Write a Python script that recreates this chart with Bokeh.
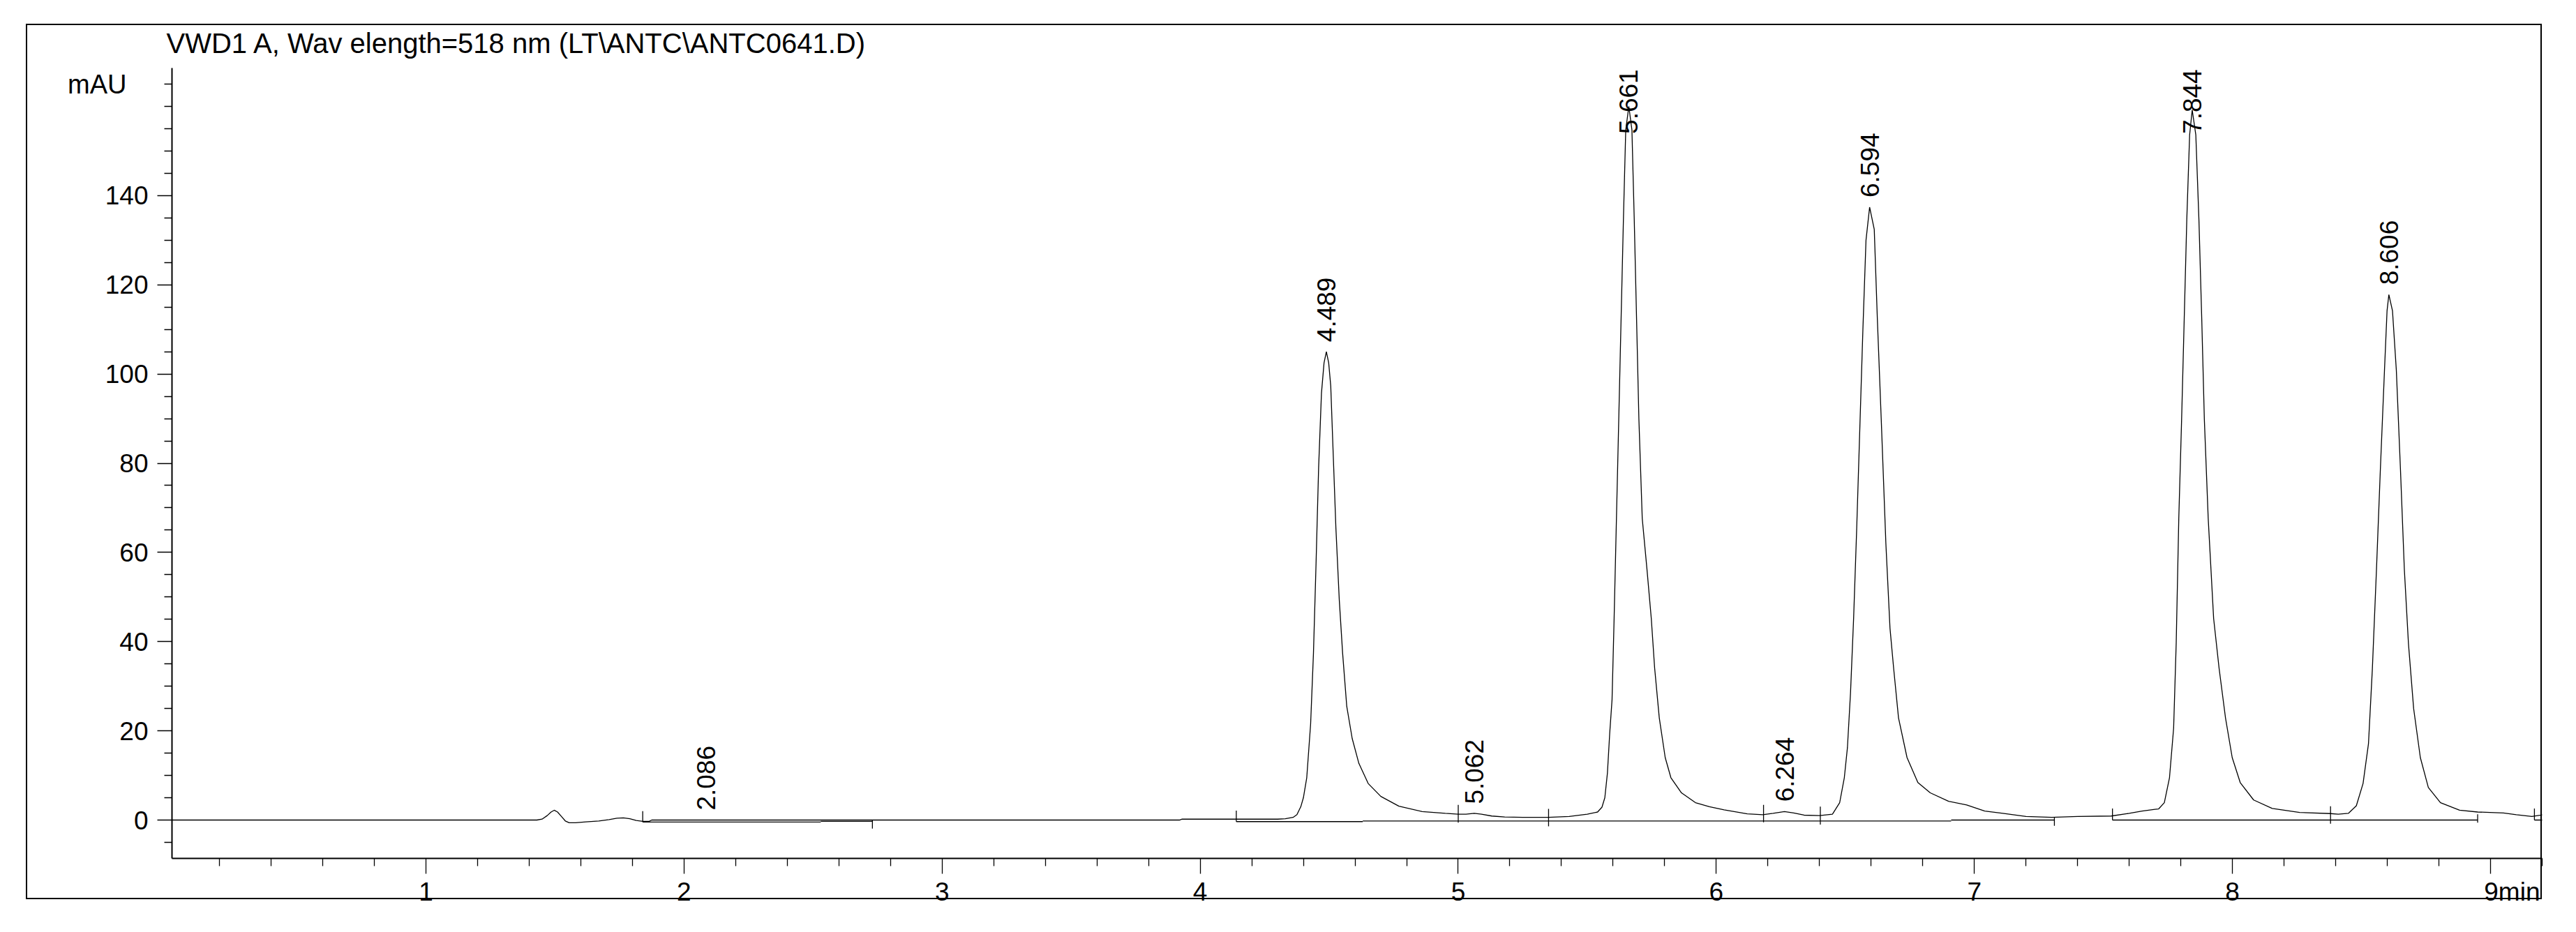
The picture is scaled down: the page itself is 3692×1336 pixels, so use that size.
import math
from bokeh.plotting import figure
from bokeh.models import Range1d, FixedTicker, LinearAxis, ColumnDataSource
from bokeh.core.properties import value
from bokeh.embed import file_html
from bokeh.resources import INLINE

# ---------------- data ----------------
trace_t = [0.0, 1.43, 1.45, 1.47, 1.485, 1.497, 1.51, 1.525, 1.54, 1.555, 1.58, 1.62, 1.67,
           1.71, 1.74, 1.765, 1.79, 1.815, 1.84, 1.865, 1.875, 3.92, 3.93, 4.30, 4.33, 4.36,
           4.375, 4.39, 4.40, 4.413, 4.428, 4.439, 4.449, 4.459, 4.470, 4.480, 4.489, 4.498,
           4.506, 4.516, 4.526, 4.539, 4.552, 4.568, 4.589, 4.615, 4.651, 4.70, 4.77, 4.86,
           4.95, 5.00, 5.03, 5.062, 5.09, 5.13, 5.18, 5.25, 5.35, 5.43, 5.50, 5.54, 5.557,
           5.568, 5.578, 5.587, 5.596, 5.604, 5.613, 5.622, 5.631, 5.640, 5.649, 5.661, 5.673,
           5.682, 5.691, 5.700, 5.713, 5.731, 5.748, 5.761, 5.779, 5.802, 5.824, 5.865, 5.919,
           5.973, 6.03, 6.12, 6.18, 6.22, 6.264, 6.30, 6.34, 6.40, 6.45, 6.478, 6.496, 6.508,
           6.520, 6.532, 6.544, 6.556, 6.568, 6.580, 6.594, 6.612, 6.624, 6.639, 6.657, 6.673,
           6.687, 6.706, 6.739, 6.781, 6.829, 6.90, 6.97, 7.04, 7.11, 7.20, 7.30, 7.40, 7.53,
           7.60, 7.65, 7.70, 7.714, 7.736, 7.756, 7.772, 7.782, 7.792, 7.803, 7.813, 7.823,
           7.834, 7.844, 7.858, 7.870, 7.881, 7.891, 7.906, 7.927, 7.948, 7.973, 7.999, 8.030,
           8.082, 8.154, 8.26, 8.38, 8.41, 8.449, 8.480, 8.506, 8.527, 8.542, 8.558, 8.573,
           8.589, 8.599, 8.606, 8.620, 8.635, 8.651, 8.666, 8.682, 8.702, 8.728, 8.759, 8.806,
           8.88, 8.95, 9.05, 9.10, 9.16, 9.205]
trace_mau = [0.0, 0.0, 0.2, 1.0, 1.8, 2.2, 1.8, 0.8, -0.2, -0.6, -0.6, -0.4, -0.2,
             0.1, 0.4, 0.5, 0.3, -0.1, -0.3, -0.3, 0.0, 0.0, 0.2, 0.2, 0.3, 0.6,
             1.2, 3.0, 5.0, 9.5, 21.5, 37.4, 57.4, 79.0, 95.7, 102.5, 105.0, 102.5,
             97.3, 81.3, 65.4, 49.4, 37.4, 25.5, 18.3, 12.7, 8.2, 5.3, 3.1, 1.9,
             1.5, 1.3, 1.3, 1.5, 1.3, 0.9, 0.7, 0.6, 0.6, 0.8, 1.3, 1.8, 2.9,
             5.0, 10.5, 19.5, 27.0, 45.2, 67.6, 89.9, 112.3, 134.6, 154.7, 160.0, 154.7,
             134.6, 112.3, 89.9, 67.6, 56.4, 45.2, 34.1, 22.9, 14.0, 9.5, 6.1, 3.9,
             3.0, 2.3, 1.4, 1.2, 1.5, 1.9, 1.6, 1.1, 1.0, 1.3, 3.9, 9.5, 16.2,
             28.5, 45.2, 65.4, 87.7, 110.0, 130.0, 137.4, 132.4, 112.3, 89.9, 62.0, 43.0,
             34.1, 22.9, 14.0, 8.4, 6.1, 4.2, 3.4, 2.0, 1.5, 0.8, 0.6, 0.8, 0.9,
             1.5, 2.0, 2.4, 2.5, 3.9, 9.5, 20.6, 39.7, 67.6, 89.9, 112.3, 134.6,
             153.6, 159.2, 153.6, 134.6, 112.3, 89.9, 67.6, 45.2, 34.1, 22.9, 14.0, 8.4,
             4.5, 2.6, 1.7, 1.45, 1.3, 1.5, 3.2, 8.2, 17.1, 33.8, 56.2, 78.5,
             100.8, 114.2, 117.8, 114.2, 100.8, 78.5, 56.2, 39.5, 25.0, 14.0, 7.3, 3.9,
             2.2, 1.8, 1.6, 1.2, 0.8, 1.2]

# peak annotations (retention time, apex height in mAU)
peak_rt = [2.086, 4.489, 5.062, 5.661, 6.264, 6.594, 7.844, 8.606]
peak_apex = [0.0, 105.0, 1.4, 160.0, 1.9, 137.4, 159.2, 117.8]
peak_text = ["2.086", "4.489", "5.062", "5.661", "6.264", "6.594", "7.844", "8.606"]

# integration baselines (start, end, level) and their delimiter marks
bl_start = [1.84, 2.53, 4.14, 4.63, 6.91, 7.535, 9.17]
bl_end = [2.53, 2.73, 4.63, 6.91, 7.31, 8.95, 9.205]
bl_level = [-0.45, -0.3, -0.35, -0.2, 0.0, 0.0, 0.0]
mark_t = [1.84, 2.73, 4.14, 5.00, 5.35, 6.183, 6.403, 7.31, 7.535, 8.38, 8.95, 9.17]
mark_lo = [-0.45, -1.9, -0.35, -0.6, -1.4, -0.5, -1.0, -1.3, 0.0, -0.8, -0.6, 0.0]
mark_hi = [2.0, 0.0, 2.1, 3.4, 2.5, 3.4, 3.0, 0.6, 2.6, 3.1, 1.3, 2.6]

x_ticks = [1, 2, 3, 4, 5, 6, 7, 8, 9]
x_tick_labels = ["1", "2", "3", "4", "5", "6", "7", "8", "9min"]
y_ticks = [0, 20, 40, 60, 80, 100, 120, 140]
title_text = "VWD1 A, Wav elength=518 nm (LT\\ANTC\\ANTC0641.D)"
y_unit = "mAU"

# ---------------- figure ----------------
FONT = "Liberation Sans"
X0, X1 = 0.016, 9.2
Y0, Y1 = -8.6, 168.6
W, H = 3660, 1310
F_LEFT, F_RIGHT, F_TOP, F_BOTTOM = 246, 3643, 97, 1230   # plot frame (px)
B_LEFT, B_RIGHT, B_TOP, B_BOTTOM = 37, 3643, 34, 1289    # outer box (px)

# outer box drawn as CSS background lines behind a transparent canvas
lw = 2
box_css = ", ".join([
    f"linear-gradient(#000,#000) {B_LEFT}px {B_TOP}px / {B_RIGHT - B_LEFT}px {lw}px no-repeat",
    f"linear-gradient(#000,#000) {B_LEFT}px {B_BOTTOM - lw}px / {B_RIGHT - B_LEFT}px {lw}px no-repeat",
    f"linear-gradient(#000,#000) {B_LEFT}px {B_TOP}px / {lw}px {B_BOTTOM - B_TOP}px no-repeat",
    f"linear-gradient(#000,#000) {B_RIGHT - lw}px {B_TOP}px / {lw}px {B_BOTTOM - B_TOP}px no-repeat",
    "#ffffff",
])

p = figure(width=W, height=H, output_backend="svg", toolbar_location=None,
           x_range=Range1d(X0, X1), y_range=Range1d(Y0, Y1),
           min_border_left=F_LEFT, min_border_right=W - F_RIGHT,
           min_border_top=F_TOP, min_border_bottom=H - F_BOTTOM,
           background_fill_color=None, border_fill_color=None,
           styles={"background": box_css})
p.outline_line_color = None
p.grid.visible = False

p.title.text = title_text
p.title.text_font = FONT
p.title.text_font_size = "40px"
p.title.text_font_style = "normal"
p.title.text_color = "black"
p.title.align = "left"
p.title.offset = -8
p.title.standoff = 27

# axes
x_minor = [round(0.2 * i, 1) for i in range(1, 47) if i % 5 != 0]
y_minor = [v for v in range(-5, 170, 5) if v not in y_ticks]
nb = "\u00a0" * 6
p.xaxis.ticker = FixedTicker(ticks=x_ticks, minor_ticks=x_minor)
p.xaxis.major_label_overrides = {t: (nb + s if t == x_ticks[-1] else s)
                                 for t, s in zip(x_ticks, x_tick_labels)}
p.yaxis.ticker = FixedTicker(ticks=y_ticks, minor_ticks=y_minor)
for ax in (p.xaxis, p.yaxis):
    ax.axis_line_color = "black"
    ax.axis_line_width = 2
    ax.major_tick_in = 0
    ax.minor_tick_in = 0
    ax.major_tick_line_color = "black"
    ax.minor_tick_line_color = "black"
    ax.major_tick_line_width = 1.3
    ax.minor_tick_line_width = 1.3
    ax.major_label_text_font = FONT
    ax.major_label_text_font_size = "37px"
    ax.major_label_text_color = "black"
p.xaxis.major_tick_out = 22
p.xaxis.minor_tick_out = 11
p.xaxis.major_label_standoff = 5
p.yaxis.major_tick_out = 21
p.yaxis.minor_tick_out = 11
p.yaxis.major_label_standoff = 13

# unit label of the signal axis, at the top tick level
unit_axis = LinearAxis(ticker=FixedTicker(ticks=[165]), major_label_overrides={165: y_unit},
                       axis_line_color=None, major_tick_line_color=None,
                       minor_tick_line_color=None, major_tick_out=0, minor_tick_out=0,
                       major_label_standoff=-34, major_label_text_font=FONT,
                       major_label_text_font_size="38px", major_label_text_color="black")
p.add_layout(unit_axis, "left")

# trace
p.line(trace_t, trace_mau, line_color="black", line_width=1.3)

# integration baselines and marks
p.segment(x0=bl_start, y0=bl_level, x1=bl_end, y1=bl_level, line_color="black", line_width=1.3)
p.segment(x0=mark_t, y0=mark_lo, x1=mark_t, y1=mark_hi, line_color="black", line_width=1.3)

# rotated retention-time labels just above each apex (kept inside the plot top)
px_per_unit = (F_BOTTOM - F_TOP) / (Y1 - Y0)
gap = 14 / px_per_unit
label_len = 2.5 * 37 / px_per_unit
label_y = [min(a + gap, Y1 - 0.3 - label_len) for a in peak_apex]
src = ColumnDataSource(dict(x=peak_rt, y=label_y, t=peak_text))
p.text(x="x", y="y", text="t", source=src, angle=math.pi / 2,
       text_align="left", text_baseline="middle",
       text_font=value(FONT), text_font_size="37px", text_color="black")

open("out.html", "w").write(file_html(p, INLINE))
